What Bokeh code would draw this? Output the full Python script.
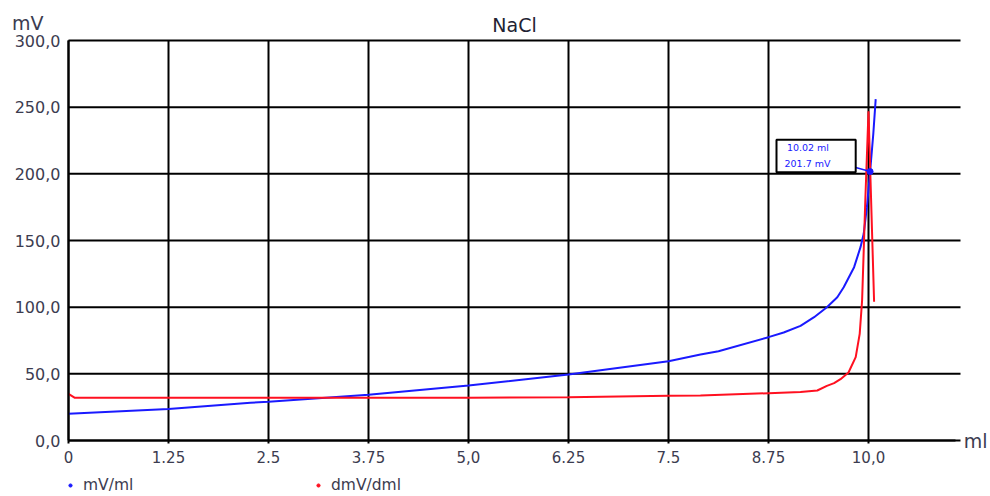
from bokeh.plotting import figure
from bokeh.models import (Range1d, FixedTicker, Label, BoxAnnotation, Legend, LegendItem, LinearAxis)
from bokeh.embed import file_html
from bokeh.resources import INLINE

# ---- data ----
title_text = "NaCl"
y_unit = "mV"
x_unit = "ml"

x_ticks = [0, 1.25, 2.5, 3.75, 5.0, 6.25, 7.5, 8.75, 10.0]
x_tick_labels = ["0", "1.25", "2.5", "3.75", "5,0", "6.25", "7.5", "8.75", "10,0"]
y_ticks = [0, 50, 100, 150, 200, 250, 300]
y_tick_labels = ["0,0", "50,0", "100,0", "150,0", "200,0", "250,0", "300,0"]

mv_x = [0, 1.25, 2.275, 2.5, 3.75, 5.0, 6.25, 7.5, 7.9, 8.125, 8.75, 8.94, 9.15, 9.32,
        9.48, 9.61, 9.69, 9.82, 9.9, 9.94, 9.98, 10.02, 10.06, 10.09]
mv_y = [20, 23.7, 28.3, 29, 34.3, 41.2, 49.5, 59.5, 64.5, 67, 77.5, 81, 86, 92.5,
        100, 107.5, 115, 130, 145, 155, 175, 201.7, 230, 256]

dmv_x = [0, 0.08, 1.25, 2.5, 3.75, 5.0, 6.25, 7.5, 7.9, 8.75, 9.15, 9.36, 9.48, 9.57,
         9.65, 9.75, 9.84, 9.89, 9.92, 9.94, 9.96, 10.0, 10.07]
dmv_y = [35, 32, 32, 32, 32, 32, 32.5, 33.5, 33.7, 35.5, 36.3, 37.5, 41, 43,
         46, 51, 62.5, 80, 105, 142, 180, 247, 104]

marker_x = 10.02
marker_y = 201.7
marker_texts = ["10.02 ml", "201.7 mV"]

legend_names = ["mV/ml", "dmV/dml"]
BLUE = "#1a1aff"
RED = "#ff1020"
TXT = "#3c3c50"
FONT = "DejaVu Sans"

X_MAX = 11.15   # right end of the grid area
Y_MAX = 300

# frame = whole canvas; axes are pinned at x=0 / y=0
p = figure(width=990, height=496, output_backend="svg", toolbar_location=None,
           x_range=Range1d(-0.85, 11.525), y_range=Range1d(-42, 330),
           x_axis_location=None, y_axis_location=None,
           min_border=0)
p.outline_line_color = None
p.background_fill_color = "white"
p.xgrid.visible = False
p.ygrid.visible = False

# grid lines (data coords from the tick arrays)
p.segment(x0=x_ticks, y0=[0] * len(x_ticks), x1=x_ticks, y1=[Y_MAX] * len(x_ticks),
          line_color="black", line_width=2)
p.segment(x0=[0] * len(y_ticks), y0=y_ticks, x1=[X_MAX] * len(y_ticks), y1=y_ticks,
          line_color="black", line_width=2)

xaxis = LinearAxis(fixed_location=0, bounds=(0, 11.09))
yaxis = LinearAxis(fixed_location=0, bounds=(0, Y_MAX))
p.add_layout(xaxis, "below")
p.add_layout(yaxis, "left")
xaxis.ticker = FixedTicker(ticks=x_ticks)
xaxis.major_label_overrides = {t: l for t, l in zip(x_ticks, x_tick_labels)}
yaxis.ticker = FixedTicker(ticks=y_ticks)
yaxis.major_label_overrides = {t: l for t, l in zip(y_ticks, y_tick_labels)}
for ax in (xaxis, yaxis):
    ax.axis_line_color = "black"
    ax.axis_line_width = 2
    ax.major_tick_line_color = "black"
    ax.major_tick_line_width = 2
    ax.minor_tick_line_color = None
    ax.major_label_text_font = FONT
    ax.major_label_text_font_size = "15px"
    ax.major_label_text_color = TXT
yaxis.major_label_text_font_size = "16px"
xaxis.major_tick_out = 3
xaxis.major_tick_in = 0
xaxis.major_label_standoff = 7
yaxis.major_tick_out = 0
yaxis.major_tick_in = 0
yaxis.major_label_standoff = 8

# curves
r_mv = p.line(mv_x, mv_y, line_color=BLUE, line_width=2)
r_dmv = p.line(dmv_x, dmv_y, line_color=RED, line_width=2)

# marker + annotation box
p.scatter([marker_x], [marker_y], size=6, color=BLUE)
box_right = marker_x - 0.18
box_left = box_right - 0.99
box_bottom = marker_y - 0.5
box_top = box_bottom + 24.3
p.add_layout(BoxAnnotation(left=box_left, right=box_right, bottom=box_bottom, top=box_top,
                           fill_color=None, line_color="black", line_width=2, line_alpha=1))
p.segment([box_right], [box_bottom + 3.5], [marker_x], [marker_y], line_color=BLUE, line_width=1.5)
p.add_layout(Label(x=box_left + 0.13, y=box_top - 6, text=marker_texts[0], text_font=FONT,
                   text_font_size="9.5px", text_color=BLUE, text_baseline="middle"))
p.add_layout(Label(x=box_left + 0.1, y=box_bottom + 6.5, text=marker_texts[1], text_font=FONT,
                   text_font_size="9.5px", text_color=BLUE, text_baseline="middle"))

# titles / unit labels
p.add_layout(Label(x=5.575, y=312, text=title_text, text_font=FONT, text_font_size="19px",
                   text_color="#222233", text_align="center", text_baseline="middle"))
p.add_layout(Label(x=-0.51, y=313.5, text=y_unit, text_font=FONT, text_font_size="19px",
                   text_color=TXT, text_align="center", text_baseline="middle"))
p.add_layout(Label(x=11.34, y=0, text=x_unit, text_font=FONT, text_font_size="19px",
                   text_color=TXT, text_align="center", text_baseline="middle"))

# legend (the dummy points sit outside the visible range; they only feed the legend glyphs)
d1 = p.scatter([-100], [-100], size=4, color=BLUE)
d2 = p.scatter([-100], [-100], size=4, color=RED)
legend = Legend(items=[LegendItem(label=legend_names[0], renderers=[d1]),
                       LegendItem(label=legend_names[1], renderers=[d2])],
                orientation="horizontal", location=(66, 2),
                glyph_width=8, glyph_height=16, label_standoff=9, label_width=224,
                spacing=7, padding=0, margin=0,
                border_line_color=None, background_fill_alpha=0,
                label_text_font=FONT, label_text_font_size="15.5px", label_text_color=TXT)
p.add_layout(legend, "center")

open("out.html", "w").write(file_html(p, INLINE))
